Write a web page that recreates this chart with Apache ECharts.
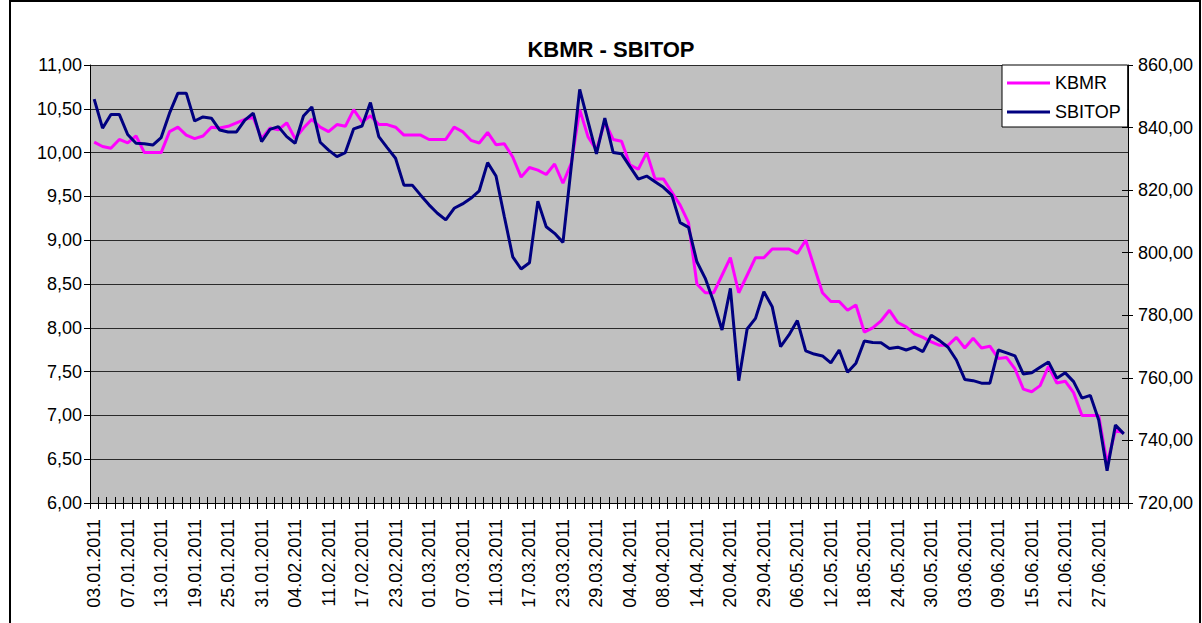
<!DOCTYPE html>
<html>
<head>
<meta charset="utf-8">
<script src="https://cdn.jsdelivr.net/npm/echarts@6/dist/echarts.min.js"></script>
<style>
html,body{margin:0;padding:0;background:#fff;}
#chart{width:1202px;height:623px;}
</style>
</head>
<body>
<div id="chart"></div>
<script>
var dates = [
"03.01.2011","04.01.2011","05.01.2011","06.01.2011","07.01.2011","10.01.2011","11.01.2011","12.01.2011","13.01.2011","14.01.2011",
"17.01.2011","18.01.2011","19.01.2011","20.01.2011","21.01.2011","24.01.2011","25.01.2011","26.01.2011","27.01.2011","28.01.2011",
"31.01.2011","01.02.2011","02.02.2011","03.02.2011","04.02.2011","07.02.2011","09.02.2011","10.02.2011","11.02.2011","14.02.2011",
"15.02.2011","16.02.2011","17.02.2011","18.02.2011","21.02.2011","22.02.2011","23.02.2011","24.02.2011","25.02.2011","28.02.2011",
"01.03.2011","02.03.2011","03.03.2011","04.03.2011","07.03.2011","08.03.2011","09.03.2011","10.03.2011","11.03.2011","14.03.2011",
"15.03.2011","16.03.2011","17.03.2011","18.03.2011","21.03.2011","22.03.2011","23.03.2011","24.03.2011","25.03.2011","28.03.2011",
"29.03.2011","30.03.2011","31.03.2011","01.04.2011","04.04.2011","05.04.2011","06.04.2011","07.04.2011","08.04.2011","11.04.2011",
"12.04.2011","13.04.2011","14.04.2011","15.04.2011","18.04.2011","19.04.2011","20.04.2011","21.04.2011","26.04.2011","28.04.2011",
"29.04.2011","03.05.2011","04.05.2011","05.05.2011","06.05.2011","09.05.2011","10.05.2011","11.05.2011","12.05.2011","13.05.2011",
"16.05.2011","17.05.2011","18.05.2011","19.05.2011","20.05.2011","23.05.2011","24.05.2011","25.05.2011","26.05.2011","27.05.2011",
"30.05.2011","31.05.2011","01.06.2011","02.06.2011","03.06.2011","06.06.2011","07.06.2011","08.06.2011","09.06.2011","10.06.2011",
"13.06.2011","14.06.2011","15.06.2011","16.06.2011","17.06.2011","20.06.2011","21.06.2011","22.06.2011","23.06.2011","24.06.2011",
"27.06.2011","28.06.2011","29.06.2011","30.06.2011"
];

var kbmr = [
10.12,10.07,10.05,10.15,10.11,10.19,10.00,10.00,10.00,10.24,
10.29,10.20,10.16,10.19,10.29,10.28,10.30,10.34,10.38,10.40,
10.16,10.28,10.26,10.34,10.16,10.28,10.38,10.29,10.24,10.32,
10.30,10.49,10.35,10.42,10.32,10.32,10.29,10.20,10.20,10.20,
10.15,10.15,10.15,10.29,10.24,10.14,10.11,10.23,10.09,10.10,
9.95,9.72,9.83,9.80,9.75,9.87,9.65,9.88,10.49,10.18,
10.03,10.35,10.15,10.13,9.86,9.81,10.00,9.70,9.70,9.55,
9.40,9.20,8.50,8.40,8.40,8.60,8.80,8.40,8.60,8.80,
8.80,8.90,8.90,8.90,8.85,9.00,8.70,8.40,8.30,8.30,
8.20,8.26,7.95,8.00,8.08,8.20,8.06,8.01,7.93,7.89,
7.84,7.80,7.80,7.89,7.77,7.88,7.77,7.79,7.65,7.66,
7.53,7.30,7.27,7.34,7.56,7.37,7.39,7.26,7.00,7.00,
7.00,6.45,6.83,6.80
];

var sbitop = [
849.1,839.8,844.2,844.2,837.8,835.0,834.8,834.4,836.8,844.6,
851.0,851.0,842.1,843.4,843.0,839.2,838.6,838.6,842.4,844.6,
835.5,839.4,840.3,837.1,835.0,843.7,846.6,835.3,832.8,830.7,
832.0,839.6,840.5,848.0,837.1,833.6,830.2,821.6,821.6,818.4,
815.3,812.6,810.5,814.2,815.6,817.4,819.8,828.8,824.5,811.5,
798.7,794.8,796.8,816.5,808.3,806.2,803.3,827.8,852.2,841.9,
831.6,843.0,832.0,831.6,827.5,823.5,824.5,822.7,820.9,818.4,
809.6,808.1,797.1,791.8,784.3,775.3,788.6,759.1,775.6,779.0,
787.5,782.7,770.0,773.7,778.3,768.6,767.6,767.0,764.8,768.9,
761.8,764.7,771.8,771.3,771.2,769.4,769.8,768.9,769.8,768.4,
773.6,771.9,769.8,765.7,759.5,759.1,758.3,758.3,768.9,768.0,
767.0,761.2,761.6,763.4,765.1,759.9,761.6,758.8,753.5,754.4,
746.5,730.3,744.9,742.1
];

var seriesNames = ["KBMR", "SBITOP"];
var titleText = "KBMR - SBITOP";

var FONT = "'Liberation Sans', Arial, sans-serif";
function comma(v){ return v.toFixed(2).replace('.', ','); }

var chart = echarts.init(document.getElementById('chart'), null, {renderer: 'svg'});
chart.setOption({
  animation: false,
  backgroundColor: '#ffffff',
  title: {
    text: titleText,
    left: 606,
    textAlign: 'center',
    top: 33,
    textStyle: {fontFamily: FONT, fontSize: 22, fontWeight: 'bold', color: '#000'}
  },
  legend: {
    data: seriesNames,
    orient: 'vertical',
    left: 1002,
    top: 65,
    icon: 'rect',
    itemWidth: 43,
    itemHeight: 3,
    itemGap: 9,
    padding: [8, 7, 5, 5],
    backgroundColor: '#ffffff',
    borderColor: '#000000',
    borderWidth: 1,
    textStyle: {fontFamily: FONT, fontSize: 18, color: '#000', lineHeight: 20}
  },
  graphic: [{
    type: 'rect',
    silent: true,
    shape: {x: 10, y: 1, width: 1190, height: 640},
    style: {fill: 'none', stroke: '#000', lineWidth: 2}
  }],
  grid: {
    left: 90, right: 74, top: 65, bottom: 120,
    show: true, backgroundColor: '#C0C0C0', borderWidth: 0
  },
  xAxis: [{
    type: 'category',
    data: dates,
    boundaryGap: true,
    position: 'bottom',
    axisLine: {show: true, lineStyle: {color: '#000', width: 1}},
    axisTick: {show: true, interval: 0, length: 6, lineStyle: {color: '#000'}},
    axisLabel: {interval: 3, rotate: 90, fontFamily: FONT, fontSize: 18, color: '#000', margin: 16},
    splitLine: {show: false}
  }, {
    type: 'category',
    data: dates,
    boundaryGap: true,
    position: 'bottom',
    axisLine: {show: false},
    axisTick: {show: true, inside: true, interval: 0, length: 6, lineStyle: {color: '#000'}},
    axisLabel: {show: false},
    splitLine: {show: false}
  }],
  yAxis: [{
    type: 'value',
    position: 'left',
    min: 6, max: 11, interval: 0.5,
    axisLine: {show: true, lineStyle: {color: '#000', width: 1}},
    axisTick: {show: true, length: 6, lineStyle: {color: '#000'}},
    axisLabel: {formatter: comma, fontFamily: FONT, fontSize: 18, color: '#000', margin: 8},
    splitLine: {show: true, lineStyle: {color: '#2a2a2a', width: 1}}
  }, {
    type: 'value',
    position: 'right',
    min: 720, max: 860, interval: 20,
    axisLine: {show: true, lineStyle: {color: '#000', width: 1}},
    axisTick: {show: true, length: 5, lineStyle: {color: '#000'}},
    axisLabel: {formatter: comma, fontFamily: FONT, fontSize: 18, color: '#000', margin: 10},
    splitLine: {show: false}
  }, {
    type: 'value',
    position: 'right',
    min: 720, max: 860, interval: 20,
    axisLine: {show: false},
    axisTick: {show: true, inside: true, length: 6, lineStyle: {color: '#000'}},
    axisLabel: {show: false},
    splitLine: {show: false}
  }],
  series: [{
    name: seriesNames[0],
    type: 'line',
    data: kbmr,
    xAxisIndex: 0,
    yAxisIndex: 0,
    symbol: 'none',
    color: '#FF00FF',
    lineStyle: {color: '#FF00FF', width: 3},
    itemStyle: {color: '#FF00FF'}
  }, {
    name: seriesNames[1],
    type: 'line',
    data: sbitop,
    xAxisIndex: 0,
    yAxisIndex: 1,
    symbol: 'none',
    color: '#000080',
    lineStyle: {color: '#000080', width: 3},
    itemStyle: {color: '#000080'}
  }]
});
</script>
</body>
</html>
